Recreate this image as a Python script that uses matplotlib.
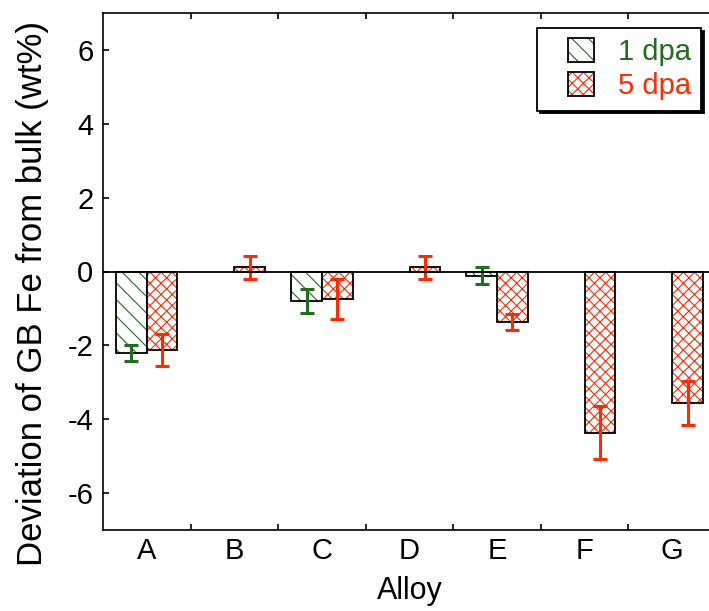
import numpy as np
import matplotlib
matplotlib.use("Agg")
import matplotlib.pyplot as plt
from matplotlib.patches import Patch, Rectangle
from matplotlib.legend_handler import HandlerPatch

plt.rcParams['font.family'] = ['Liberation Sans', 'DejaVu Sans']
plt.rcParams['hatch.linewidth'] = 0.8
plt.rcParams['axes.unicode_minus'] = False

alloys = ['A', 'B', 'C', 'D', 'E', 'F', 'G']
dev_1dpa = [-2.20, np.nan, -0.80, np.nan, -0.12, np.nan, np.nan]
err_1dpa = [0.22, np.nan, 0.32, np.nan, 0.23, np.nan, np.nan]
dev_5dpa = [-2.12, 0.12, -0.74, 0.12, -1.37, -4.37, -3.57]
err_5dpa = [0.43, 0.31, 0.54, 0.31, 0.22, 0.72, 0.60]

green = '#1e6e1e'
red = '#ff2a00'
w = 0.35

fig = plt.figure(figsize=(7.09, 6.11), dpi=100)
ax = fig.add_axes([103 / 709, 81 / 611, 613 / 709, 517 / 611])

x = np.arange(len(alloys))
for off, vals, errs, col, hatch in [(-w / 2, dev_1dpa, err_1dpa, green, '\\\\'),
                                    (w / 2, dev_5dpa, err_5dpa, red, 'xxx')]:
    ax.bar(x + off, vals, w, facecolor='white', edgecolor=col, hatch=hatch, lw=0)
    ax.bar(x + off, vals, w, fill=False, edgecolor='black', lw=1.3)
    ax.errorbar(x + off, vals, yerr=errs, fmt='none', ecolor=col,
                elinewidth=2.2, capsize=5, capthick=2.2)

ax.axhline(0, color='black', lw=1.3)

ax.set_xlim(-0.5, 6.5)
ax.set_ylim(-7, 7)
ax.set_xticks(x)
ax.set_xticklabels(alloys)
ax.set_xticks(x[:-1] + 0.5, minor=True)
ax.set_yticks([-6, -4, -2, 0, 2, 4, 6])
ax.tick_params(axis='x', which='major', length=0, pad=5, labelsize=21)
ax.tick_params(axis='x', which='minor', direction='in', length=4, width=1.2,
               top=True, bottom=True)
ax.tick_params(axis='y', direction='in', length=4.5, width=1.2, pad=7, labelsize=21)
for s in ax.spines.values():
    s.set_linewidth(1.2)
ax.spines['right'].set_visible(False)

ax.set_xlabel('Alloy', fontsize=22, labelpad=8)
ax.set_ylabel('Deviation of GB Fe from bulk (wt%)', fontsize=25)
ax.yaxis.set_label_coords(-0.088, 0.458)


# square swatch pushed to the right end of a wide handle box
def right_swatch(legend, orig_handle, xdescent, ydescent, width, height, fontsize):
    pw = 0.9 * fontsize
    return Rectangle((-xdescent + width - pw, -ydescent), pw, height)


h1 = (Patch(facecolor='white', edgecolor=green, hatch='\\\\', lw=0),
      Patch(fill=False, edgecolor='black', lw=1.3))
h2 = (Patch(facecolor='white', edgecolor=red, hatch='xxx', lw=0),
      Patch(fill=False, edgecolor='black', lw=1.3))
leg = ax.legend([h1, h2], ['1 dpa', '5 dpa'], loc='upper right',
                bbox_to_anchor=(701 / 709, 1 - 28 / 611),
                bbox_transform=fig.transFigure, fontsize=21,
                labelcolor=[green, red], fancybox=False, edgecolor='black',
                framealpha=1, shadow={'color': 'black', 'alpha': 1},
                handler_map={Patch: HandlerPatch(patch_func=right_swatch)},
                handlelength=1.6, handleheight=0.9, handletextpad=0.8,
                borderpad=0.35, borderaxespad=0, labelspacing=0.2)
leg.get_frame().set_linewidth(1.3)

fig.savefig('out.png', dpi=100)
